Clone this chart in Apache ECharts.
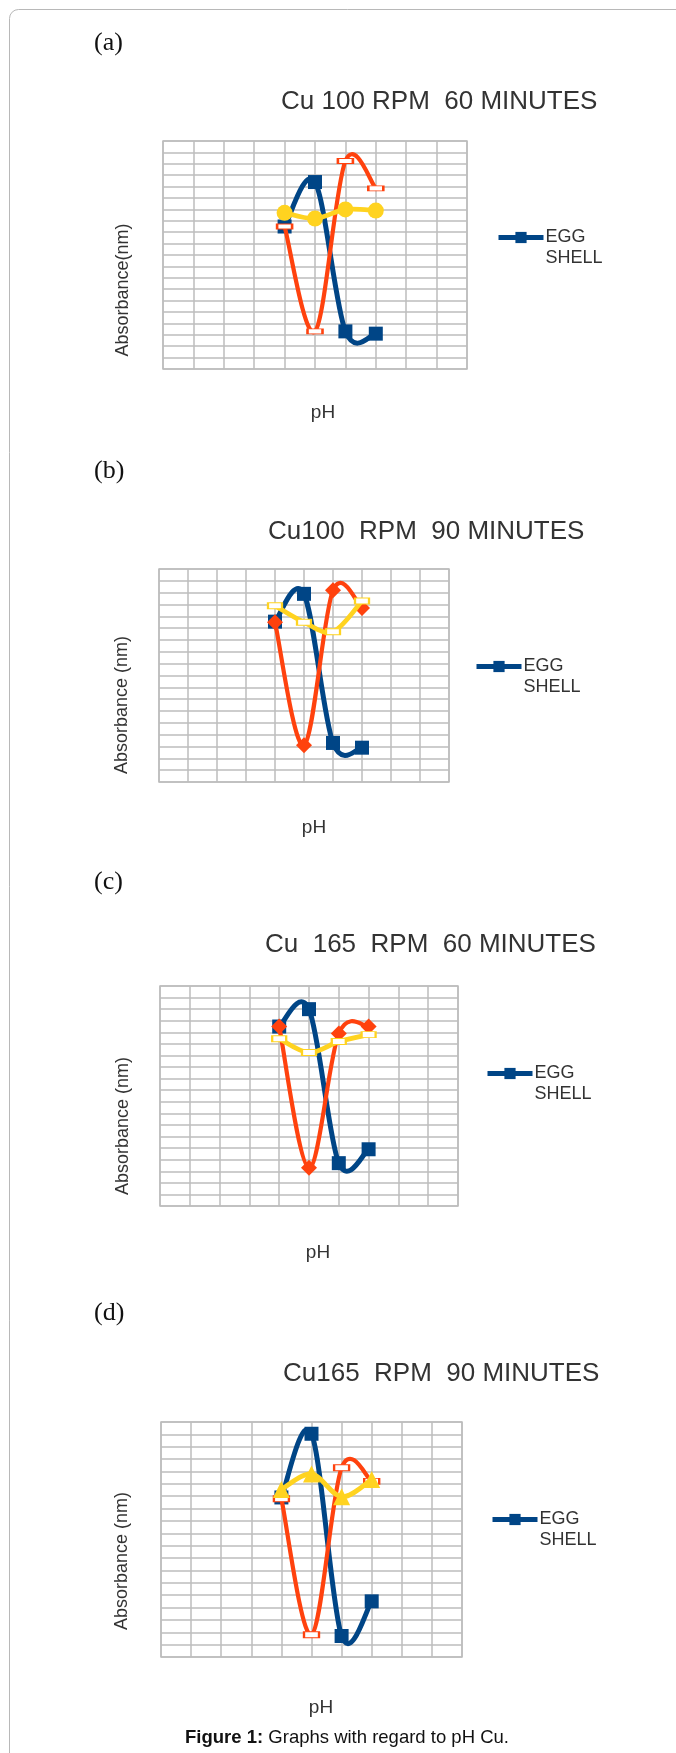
<!DOCTYPE html>
<html>
<head>
<meta charset="utf-8">
<script src="https://cdn.jsdelivr.net/npm/echarts@6/dist/echarts.min.js"></script>
<style>
html,body{margin:0;padding:0;background:#fff;}
#c{width:676px;height:1753px;}
</style>
</head>
<body>
<div id="c"></div>
<script>
// pH positions on the 0-10 grid (no tick labels in the original)
const xVals = [4, 5, 6, 7];

// (a) Cu 100 RPM 60 MINUTES
const blueA   = [12.5, 16.4, 3.3, 3.1];
const orangeA = [12.5, 3.3, 18.25, 15.85];
const yellowA = [13.7, 13.2, 14.0, 13.9];
// (b) Cu100 RPM 90 MINUTES
const blueB   = [13.55, 15.9, 3.3, 2.9];
const orangeB = [13.5, 3.1, 16.2, 14.7];
const yellowB = [14.9, 13.5, 12.7, 15.3];
// (c) Cu 165 RPM 60 MINUTES
const blueC   = [15.5, 17.0, 3.7, 4.9];
const orangeC = [15.5, 3.3, 14.9, 15.5];
const yellowC = [14.45, 13.25, 14.2, 14.8];
// (d) Cu165 RPM 90 MINUTES
const blueD   = [12.9, 18.05, 1.7, 4.5];
const orangeD = [12.8, 1.8, 15.3, 14.2];
const yellowD = [13.55, 14.8, 12.96, 14.35];

const panelLetters = ['(a)', '(b)', '(c)', '(d)'];
const panelTitles = ['Cu 100 RPM  60 MINUTES', 'Cu100  RPM  90 MINUTES', 'Cu  165  RPM  60 MINUTES', 'Cu165  RPM  90 MINUTES'];
const yAxisTitles = ['Absorbance(nm)', 'Absorbance (nm)', 'Absorbance (nm)', 'Absorbance (nm)'];
const xAxisTitle = 'pH';
const legendName = 'EGG SHELL';
const yMax = [20, 18, 19, 19];
const caption = 'Figure 1:';
const captionRest = ' Graphs with regard to pH Cu.';

const BLUE = '#004586', ORANGE = '#ff420e', YELLOW = '#ffd320';
const GRIDC = '#bdbdbd';

const layout = [
  {grid:{left:163, top:141, width:304, height:228}, letterY:43, title:[281,102], ylab:[123,290], xlab:[323,413], legend:[496,237]},
  {grid:{left:159, top:569, width:290, height:213}, letterY:471, title:[268,532], ylab:[122,705], xlab:[314,828], legend:[474,666]},
  {grid:{left:160, top:986, width:298, height:220}, letterY:882, title:[265,945], ylab:[123,1126], xlab:[318,1253], legend:[485,1073]},
  {grid:{left:161, top:1422, width:301, height:235}, letterY:1313, title:[283,1374], ylab:[122,1561], xlab:[321,1708], legend:[490,1519]}
];

const blues = [blueA, blueB, blueC, blueD];
const oranges = [orangeA, orangeB, orangeC, orangeD];
const yellows = [yellowA, yellowB, yellowC, yellowD];

const hollowRect = (col, w, h) => ({symbol:'rect', symbolSize:[w,h], itemStyle:{color:'#fff', borderColor:col, borderWidth:1.5, opacity:1}});
const orangeSym = [hollowRect(ORANGE,15,5), {symbol:'diamond', symbolSize:16, itemStyle:{color:ORANGE}}, {symbol:'diamond', symbolSize:16, itemStyle:{color:ORANGE}}, hollowRect(ORANGE,15,6)];
const yellowSym = [{symbol:'circle', symbolSize:16, itemStyle:{color:YELLOW}}, hollowRect(YELLOW,14,6), hollowRect(YELLOW,14,6), {symbol:'triangle', symbolSize:17, itemStyle:{color:YELLOW}}];

const pts = (arr) => arr.map((v, i) => [xVals[i], v]);

// Smooth curve through the data points (Catmull-Rom), positioned by the axes via api.coord
function curveSeries(arr, i, color, width, z) {
  return {
    type:'custom', name:'curve_' + color + i, xAxisIndex:i, yAxisIndex:i, z:z, silent:true, clip:false,
    animation:false, data:pts(arr),
    renderItem:function(params, api) {
      if (params.dataIndex !== 0) return {type:'group', children:[]};
      const P = arr.map((v, k) => api.coord([xVals[k], v]));
      const n = P.length;
      const T = P.map((p, k) => {
        const a = P[Math.max(k - 1, 0)], b = P[Math.min(k + 1, n - 1)];
        return [(b[0] - a[0]) / 2, (b[1] - a[1]) / 2];
      });
      let d = 'M' + P[0][0] + ' ' + P[0][1];
      for (let k = 0; k < n - 1; k++) {
        const c1 = [P[k][0] + T[k][0] / 3, P[k][1] + T[k][1] / 3];
        const c2 = [P[k + 1][0] - T[k + 1][0] / 3, P[k + 1][1] - T[k + 1][1] / 3];
        d += ' C' + c1[0] + ' ' + c1[1] + ' ' + c2[0] + ' ' + c2[1] + ' ' + P[k + 1][0] + ' ' + P[k + 1][1];
      }
      return {type:'path', shape:{pathData:d}, style:{stroke:color, lineWidth:width, fill:'none', lineJoin:'round', lineCap:'round'}};
    }
  };
}

const grids = [], xAxes = [], yAxes = [], series = [], legends = [], graphics = [];

graphics.push({type:'rect', z:0, shape:{x:9.5, y:9.5, width:720, height:1820, r:9}, style:{fill:'none', stroke:'#b8b8b8', lineWidth:1}});

layout.forEach((L, i) => {
  grids.push(Object.assign({show:true, borderColor:GRIDC, borderWidth:1.5, backgroundColor:'transparent'}, L.grid));
  xAxes.push({gridIndex:i, type:'value', min:0, max:10, interval:1,
    axisLine:{show:false}, axisTick:{show:false}, axisLabel:{show:false},
    splitLine:{show:true, lineStyle:{color:GRIDC, width:1.5}}});
  yAxes.push({gridIndex:i, type:'value', min:0, max:yMax[i], interval:1,
    axisLine:{show:false}, axisTick:{show:false}, axisLabel:{show:false},
    splitLine:{show:true, lineStyle:{color:GRIDC, width:1.5}}});

  series.push(curveSeries(blues[i], i, BLUE, 5, 2));
  series.push({name:legendName, type:'line', xAxisIndex:i, yAxisIndex:i, data:pts(blues[i]),
    symbol:'rect', symbolSize:14, color:BLUE, lineStyle:{color:BLUE, width:1, opacity:0}, itemStyle:{color:BLUE}, z:3, animation:false});
  series.push(curveSeries(oranges[i], i, ORANGE, 4.2, 4));
  series.push(Object.assign({name:'s2_' + i, type:'line', xAxisIndex:i, yAxisIndex:i, data:pts(oranges[i]),
    color:ORANGE, lineStyle:{color:ORANGE, width:1, opacity:0}, z:5, animation:false}, orangeSym[i]));
  series.push(curveSeries(yellows[i], i, YELLOW, 4.8, 6));
  series.push(Object.assign({name:'s3_' + i, type:'line', xAxisIndex:i, yAxisIndex:i, data:pts(yellows[i]),
    color:YELLOW, lineStyle:{color:YELLOW, width:1, opacity:0}, z:7, animation:false}, yellowSym[i]));

  legends.push({data:[legendName], left:L.legend[0], top:L.legend[1] - 31, padding:0, itemGap:0,
    itemWidth:45, itemHeight:14, selectedMode:false,
    lineStyle:{color:BLUE, width:5, opacity:1},
    itemStyle:{color:BLUE, opacity:1},
    formatter:() => ' \nEGG\nSHELL',
    textStyle:{fontSize:18, lineHeight:21, color:'#333', fontFamily:'Liberation Sans', padding:[0,0,0,-3]}});

  graphics.push({type:'text', style:{text:panelLetters[i], x:94, y:L.letterY, font:'26px "Liberation Serif"', fill:'#111', textAlign:'left', textVerticalAlign:'middle', align:'left', verticalAlign:'middle'}});
  graphics.push({type:'text', style:{text:panelTitles[i], x:L.title[0], y:L.title[1], font:'26px "Liberation Sans"', fill:'#333', textAlign:'left', textVerticalAlign:'middle', align:'left', verticalAlign:'middle'}});
  graphics.push({type:'text', x:L.ylab[0], y:L.ylab[1], rotation:Math.PI/2, style:{text:yAxisTitles[i], x:0, y:0, font:'18px "Liberation Sans"', fill:'#333', textAlign:'center', textVerticalAlign:'middle', align:'center', verticalAlign:'middle'}});
  graphics.push({type:'text', style:{text:xAxisTitle, x:L.xlab[0], y:L.xlab[1], font:'19px "Liberation Sans"', fill:'#333', textAlign:'center', textVerticalAlign:'middle', align:'center', verticalAlign:'middle'}});
});

graphics.push({type:'text', style:{text:'{b|' + caption + '}' + captionRest, x:347, y:1738, font:'18.5px "Liberation Sans"', fill:'#111',
  textAlign:'center', textVerticalAlign:'middle', align:'center', verticalAlign:'middle',
  rich:{b:{fontWeight:'bold', fontSize:18.5, fontFamily:'Liberation Sans', fill:'#111', color:'#111'}}}});

const chart = echarts.init(document.getElementById('c'), null, {renderer:'canvas'});
chart.setOption({
  animation:false,
  backgroundColor:'#fff',
  grid:grids, xAxis:xAxes, yAxis:yAxes, series:series, legend:legends,
  graphic:{elements:graphics}
});
</script>
</body>
</html>
